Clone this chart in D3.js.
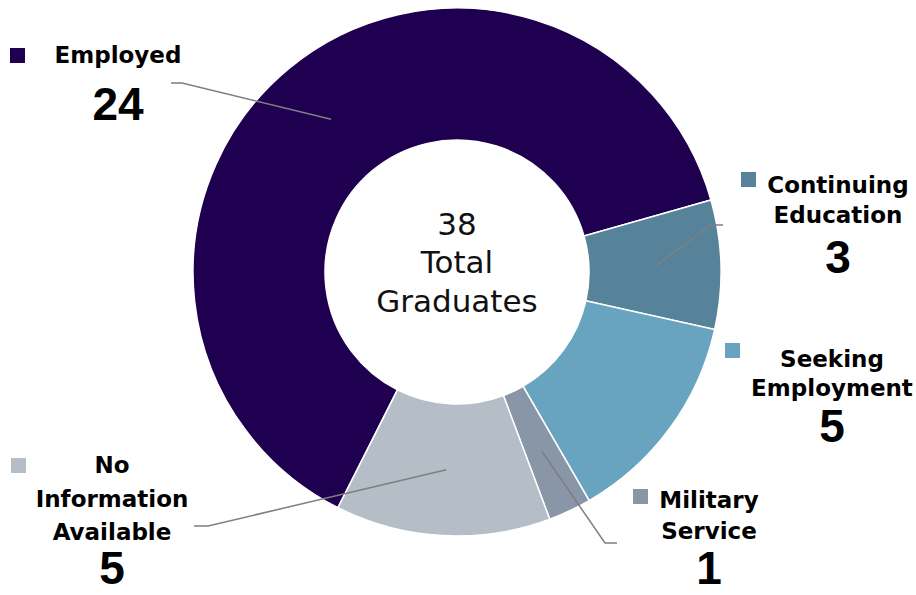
<!DOCTYPE html>
<html>
<head>
<meta charset="utf-8">
<script src="https://cdn.jsdelivr.net/npm/d3@7"></script>
<style>
  body { margin: 0; background: #fff; }
  .lbl { font-family: "DejaVu Sans", sans-serif; font-weight: bold; font-size: 23px; fill: #000; }
  .num { font-family: "Liberation Sans", Arial, sans-serif; font-weight: bold; font-size: 46px; fill: #000; }
  .center { font-family: "DejaVu Sans", sans-serif; font-size: 31px; fill: #111; }
</style>
</head>
<body>
<div id="chart"></div>
<script>
// data
var categories = ["Employed", "Continuing Education", "Seeking Employment", "Military Service", "No Information Available"];
var counts = [24, 3, 5, 1, 5];
var colors = ["#1f0050", "#56839a", "#68a4c0", "#8896a8", "#b5bdc7"];
var labelLines = [["Employed"], ["Continuing", "Education"], ["Seeking", "Employment"], ["Military", "Service"], ["No", "Information", "Available"]];
var centerLines = ["38", "Total", "Graduates"];

// label layout (where each data label sits)
var layout = [
  {sq: [10, 48], cx: 118, base: [63], numBase: 120, leader: [171, 182, 83]},
  {sq: [741, 172], cx: 838, base: [193, 223], numBase: 273, leader: [723, 711, 225]},
  {sq: [725, 343], cx: 832, base: [367, 396], numBase: 442, leader: null},
  {sq: [633, 489], cx: 709, base: [508, 539], numBase: 584, leader: [617, 605, 543]},
  {sq: [11, 458], cx: 112, base: [473, 507, 540], numBase: 584, leader: [194, 208, 526]}
];

var width = 916, height = 595;
var cx = 457, cy = 272, outerR = 264, innerR = 132;

var svg = d3.select("#chart").append("svg")
  .attr("width", width)
  .attr("height", height);

var startDeg = 206.8;
var pie = d3.pie().sort(null)
  .startAngle(startDeg * Math.PI / 180)
  .endAngle((startDeg + 360) * Math.PI / 180);

var arcs = pie(counts);
var arc = d3.arc().innerRadius(innerR).outerRadius(outerR);

var g = svg.append("g").attr("transform", `translate(${cx}, ${cy})`);

g.selectAll("path.slice")
  .data(arcs)
  .enter()
  .append("path")
  .attr("class", "slice")
  .attr("d", arc)
  .attr("fill", (d, i) => colors[i])
  .attr("stroke", "#fff")
  .attr("stroke-width", 1.5);

// leader lines from slice centroid to label
arcs.forEach(function(d, i) {
  var L = layout[i];
  if (!L.leader) return;
  var c = arc.centroid(d);
  var pts = [[c[0] + cx, c[1] + cy], [L.leader[1], L.leader[2]], [L.leader[0], L.leader[2]]];
  svg.append("path")
    .attr("d", d3.line()(pts))
    .attr("fill", "none")
    .attr("stroke", "#7f7f7f")
    .attr("stroke-width", 1.5);
});

// center text
var centerBase = [235, 273, 312];
svg.selectAll("text.center")
  .data(centerLines)
  .enter()
  .append("text")
  .attr("class", "center")
  .attr("x", cx)
  .attr("y", (d, i) => centerBase[i])
  .attr("text-anchor", "middle")
  .text(d => d);

// data labels
categories.forEach(function(cat, i) {
  var L = layout[i];
  svg.append("rect")
    .attr("x", L.sq[0]).attr("y", L.sq[1])
    .attr("width", 15).attr("height", 15)
    .attr("fill", colors[i]);
  labelLines[i].forEach(function(line, j) {
    svg.append("text")
      .attr("class", "lbl")
      .attr("x", L.cx)
      .attr("y", L.base[j])
      .attr("text-anchor", "middle")
      .text(line);
  });
  svg.append("text")
    .attr("class", "num")
    .attr("x", L.cx)
    .attr("y", L.numBase)
    .attr("text-anchor", "middle")
    .text(counts[i]);
});
</script>
</body>
</html>
